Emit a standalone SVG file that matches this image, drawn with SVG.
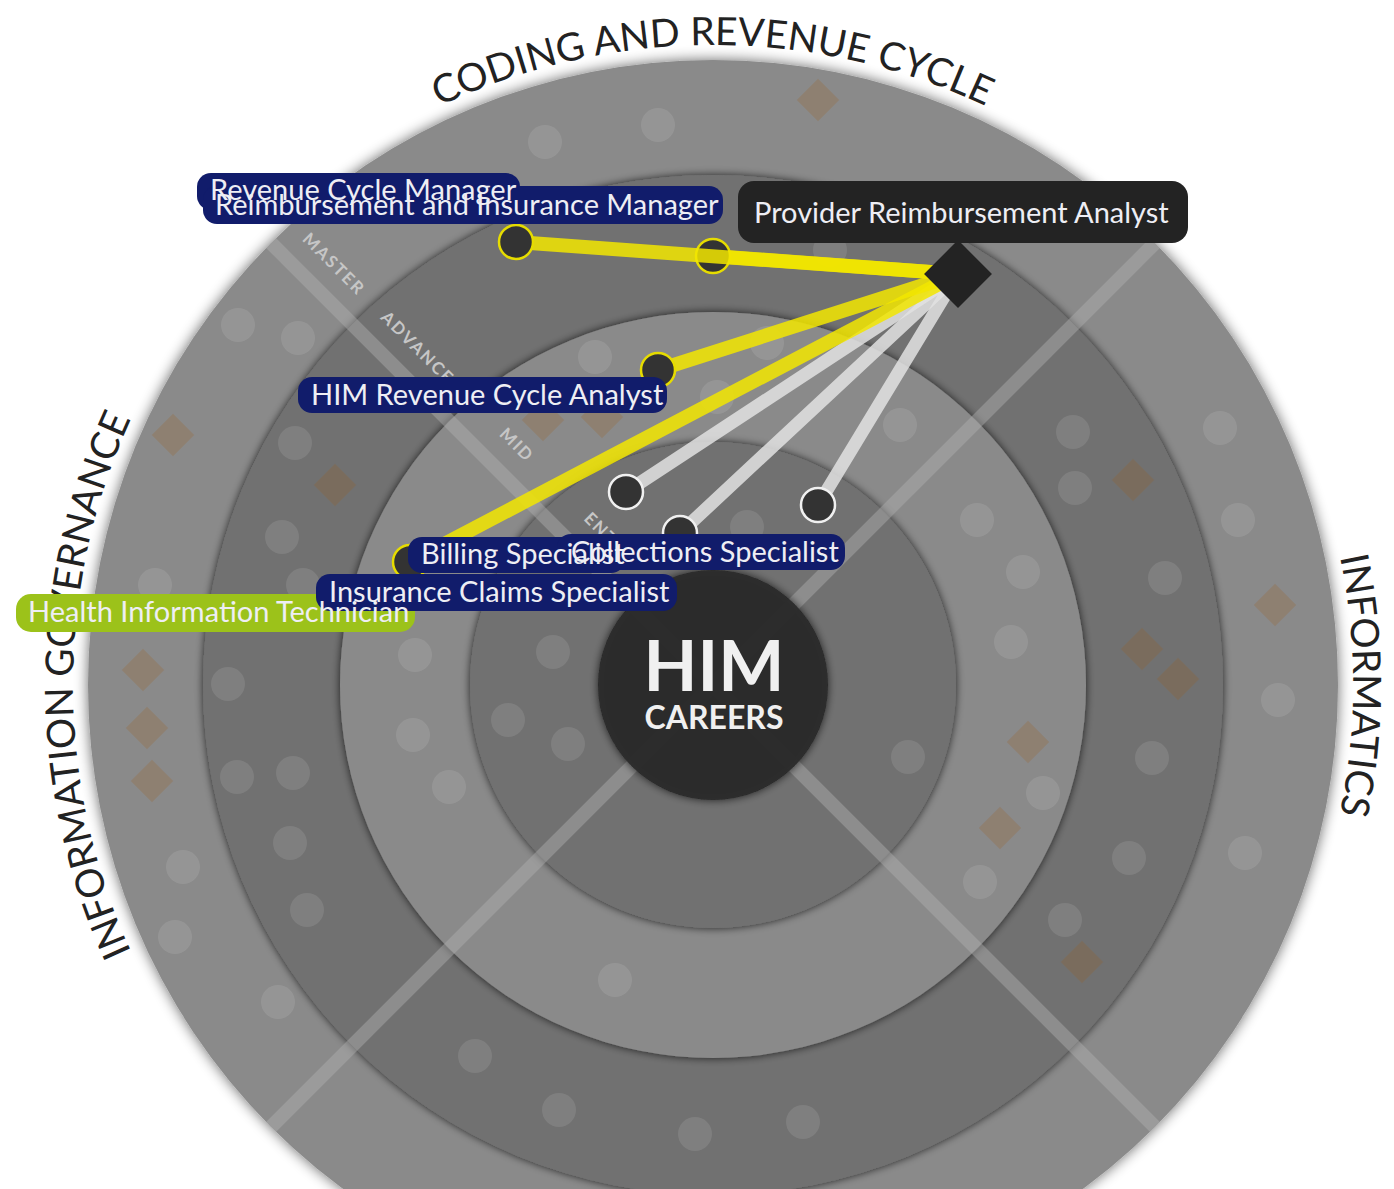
<svg xmlns="http://www.w3.org/2000/svg" width="1394" height="1189" viewBox="0 0 1394 1189">
<defs>
<style>
.light{fill:#8a8a8a}
.dark{fill:#717171}
.dot{fill:#ffffff;fill-opacity:0.1}
.dia{fill:#a05a10;fill-opacity:0.2}
.axis{stroke:#b0b0b0;stroke-opacity:0.45;stroke-width:14}
.lvl{font-family:Lato,"Open Sans",sans-serif;font-weight:700;font-size:17px;fill:#c6c6c6;letter-spacing:2px;text-anchor:middle}
.head{font-family:Lato,"Open Sans",sans-serif;font-size:39px;fill:#222222}
.y{stroke:#f2e600;stroke-opacity:0.85;stroke-width:14;stroke-linecap:round;fill:none}
.w{stroke:#e2e2e2;stroke-opacity:0.85;stroke-width:13;stroke-linecap:round;fill:none}
.ny{fill:#333333;stroke:#e6dc00;stroke-width:2.5}
.nw{fill:#333333;stroke:#f0f0f0;stroke-width:2.5}
.pill{fill:#111c6b}
.lab{font-family:Lato,"Open Sans",sans-serif;font-size:29px;fill:#eeeef4}
</style>
<filter id="sh" x="-10%" y="-10%" width="120%" height="120%">
<feGaussianBlur in="SourceAlpha" stdDeviation="4"/>
<feComponentTransfer><feFuncA type="linear" slope="0.75"/></feComponentTransfer>
<feMerge><feMergeNode/><feMergeNode in="SourceGraphic"/></feMerge>
</filter>
<filter id="sho" x="-10%" y="-10%" width="120%" height="120%">
<feGaussianBlur in="SourceAlpha" stdDeviation="7"/>
<feComponentTransfer><feFuncA type="linear" slope="0.6"/></feComponentTransfer>
<feMerge><feMergeNode/><feMergeNode in="SourceGraphic"/></feMerge>
</filter>
<path id="arc" d="M713,1325 A640,640 0 1 1 713,45 A640,640 0 1 1 713,1325"/>
</defs>
<rect width="1394" height="1189" fill="#ffffff"/>

<g id="rings">
<circle class="light" cx="713" cy="685" r="625" filter="url(#sho)"/>
<circle class="dark" cx="713" cy="685" r="510" filter="url(#sh)"/>
<circle class="light" cx="713" cy="685" r="373" filter="url(#sh)"/>
<circle class="dark" cx="713" cy="685" r="243" filter="url(#sh)"/>
<line class="axis" x1="271" y1="243" x2="1155" y2="1127"/>
<line class="axis" x1="1155" y1="243" x2="271" y2="1127"/>
</g>

<g id="headings">
<text class="head" text-anchor="middle"><textPath href="#arc" startOffset="2010">CODING AND REVENUE CYCLE</textPath></text>
<text class="head" text-anchor="middle"><textPath href="#arc" startOffset="1005">INFORMATION GOVERNANCE</textPath></text>
<text class="head" text-anchor="middle"><textPath href="#arc" startOffset="3016">INFORMATICS</textPath></text>
</g>

<g id="background-careers">
<circle class="dot" cx="545" cy="142" r="17"/>
<circle class="dot" cx="658" cy="125" r="17"/>
<circle class="dot" cx="238" cy="325" r="17"/>
<circle class="dot" cx="298" cy="338" r="17"/>
<circle class="dot" cx="295" cy="443" r="17"/>
<circle class="dot" cx="282" cy="537" r="17"/>
<circle class="dot" cx="155" cy="585" r="17"/>
<circle class="dot" cx="303" cy="585" r="17"/>
<circle class="dot" cx="228" cy="684" r="17"/>
<circle class="dot" cx="415" cy="655" r="17"/>
<circle class="dot" cx="553" cy="652" r="17"/>
<circle class="dot" cx="413" cy="735" r="17"/>
<circle class="dot" cx="508" cy="720" r="17"/>
<circle class="dot" cx="568" cy="744" r="17"/>
<circle class="dot" cx="237" cy="777" r="17"/>
<circle class="dot" cx="293" cy="773" r="17"/>
<circle class="dot" cx="449" cy="787" r="17"/>
<circle class="dot" cx="290" cy="843" r="17"/>
<circle class="dot" cx="183" cy="867" r="17"/>
<circle class="dot" cx="307" cy="910" r="17"/>
<circle class="dot" cx="175" cy="937" r="17"/>
<circle class="dot" cx="278" cy="1002" r="17"/>
<circle class="dot" cx="615" cy="980" r="17"/>
<circle class="dot" cx="475" cy="1056" r="17"/>
<circle class="dot" cx="559" cy="1110" r="17"/>
<circle class="dot" cx="695" cy="1134" r="17"/>
<circle class="dot" cx="803" cy="1122" r="17"/>
<circle class="dot" cx="595" cy="357" r="17"/>
<circle class="dot" cx="717" cy="397" r="17"/>
<circle class="dot" cx="767" cy="343" r="17"/>
<circle class="dot" cx="830" cy="250" r="17"/>
<circle class="dot" cx="747" cy="527" r="17"/>
<circle class="dot" cx="900" cy="425" r="17"/>
<circle class="dot" cx="1073" cy="432" r="17"/>
<circle class="dot" cx="1075" cy="488" r="17"/>
<circle class="dot" cx="1220" cy="428" r="17"/>
<circle class="dot" cx="977" cy="520" r="17"/>
<circle class="dot" cx="1023" cy="572" r="17"/>
<circle class="dot" cx="1238" cy="520" r="17"/>
<circle class="dot" cx="1165" cy="578" r="17"/>
<circle class="dot" cx="1011" cy="642" r="17"/>
<circle class="dot" cx="1278" cy="700" r="17"/>
<circle class="dot" cx="908" cy="757" r="17"/>
<circle class="dot" cx="1152" cy="758" r="17"/>
<circle class="dot" cx="1043" cy="793" r="17"/>
<circle class="dot" cx="1129" cy="858" r="17"/>
<circle class="dot" cx="1245" cy="853" r="17"/>
<circle class="dot" cx="980" cy="882" r="17"/>
<circle class="dot" cx="1065" cy="920" r="17"/>
<rect class="dia" x="-15" y="-15" width="30" height="30" transform="translate(818,100) rotate(45)"/>
<rect class="dia" x="-15" y="-15" width="30" height="30" transform="translate(173,435) rotate(45)"/>
<rect class="dia" x="-15" y="-15" width="30" height="30" transform="translate(335,485) rotate(45)"/>
<rect class="dia" x="-15" y="-15" width="30" height="30" transform="translate(143,670) rotate(45)"/>
<rect class="dia" x="-15" y="-15" width="30" height="30" transform="translate(147,728) rotate(45)"/>
<rect class="dia" x="-15" y="-15" width="30" height="30" transform="translate(152,781) rotate(45)"/>
<rect class="dia" x="-15" y="-15" width="30" height="30" transform="translate(543,420) rotate(45)"/>
<rect class="dia" x="-15" y="-15" width="30" height="30" transform="translate(602,417) rotate(45)"/>
<rect class="dia" x="-15" y="-15" width="30" height="30" transform="translate(1133,480) rotate(45)"/>
<rect class="dia" x="-15" y="-15" width="30" height="30" transform="translate(1275,605) rotate(45)"/>
<rect class="dia" x="-15" y="-15" width="30" height="30" transform="translate(1142,649) rotate(45)"/>
<rect class="dia" x="-15" y="-15" width="30" height="30" transform="translate(1178,679) rotate(45)"/>
<rect class="dia" x="-15" y="-15" width="30" height="30" transform="translate(1028,742) rotate(45)"/>
<rect class="dia" x="-15" y="-15" width="30" height="30" transform="translate(1000,828) rotate(45)"/>
<rect class="dia" x="-15" y="-15" width="30" height="30" transform="translate(1082,962) rotate(45)"/>
</g>

<g id="levels">
<text class="lvl" transform="translate(334,264) rotate(45)" dy="6">MASTER</text>
<text class="lvl" transform="translate(423,353) rotate(45)" dy="6">ADVANCED</text>
<text class="lvl" transform="translate(517,445) rotate(45)" dy="6">MID</text>
<text class="lvl" transform="translate(610,538) rotate(45)" dy="6">ENTRY</text>
</g>

<g id="center">
<circle cx="713" cy="685" r="115" fill="#2a2a2a" fill-opacity="0.96" filter="url(#sh)"/>
<text x="714" y="691" text-anchor="middle" font-family="Lato, 'Open Sans', sans-serif" font-weight="700" font-size="70" fill="#f0f0f0">HIM</text>
<text x="714" y="729" text-anchor="middle" font-family="Lato, 'Open Sans', sans-serif" font-weight="700" font-size="32" fill="#f0f0f0">CAREERS</text>
</g>

<g id="connectors">
<line class="w" x1="958" y1="274" x2="818" y2="505"/>
<line class="w" x1="958" y1="274" x2="680" y2="533"/>
<line class="w" x1="958" y1="274" x2="626" y2="492"/>
<line class="y" x1="958" y1="274" x2="410" y2="562"/>
<line class="y" x1="958" y1="274" x2="658" y2="370"/>
<line class="y" x1="958" y1="274" x2="713" y2="256"/>
</g>

<g id="node-collections"><circle class="nw" cx="818" cy="505" r="17"/></g>
<g id="node-insurance-claims"><circle class="nw" cx="680" cy="533" r="17"/></g>
<g id="node-hit"><circle class="nw" cx="626" cy="492" r="17"/></g>
<g id="node-billing"><circle class="ny" cx="410" cy="562" r="17"/></g>
<g id="node-him-rca"><circle class="ny" cx="658" cy="370" r="17"/></g>
<g id="node-reimb-mgr"><circle class="ny" cx="713" cy="256" r="17"/></g>
<g id="connector-rcm"><line class="y" x1="958" y1="274" x2="516" y2="242"/></g>
<g id="node-rcm"><circle class="ny" cx="516" cy="242" r="17"/></g>
<g id="node-provider"><rect x="-24" y="-24" width="48" height="48" fill="#232323" transform="translate(958,274) rotate(45)"/></g>

<g id="label-pills">
<rect class="pill" x="197" y="173" width="323" height="37" rx="14"/>
<rect class="pill" x="203" y="186" width="520" height="38" rx="14"/>
<rect x="738" y="181" width="450" height="62" rx="16" fill="#232323"/>
<rect class="pill" x="298" y="377" width="369" height="36" rx="14"/>
<rect x="16" y="594" width="399" height="38" rx="15" fill="#9cc21a"/>
<rect class="pill" x="408" y="537" width="217" height="36" rx="14"/>
<rect class="pill" x="557" y="534" width="288" height="36" rx="14"/>
<rect class="pill" x="316" y="574" width="361" height="37" rx="14"/>
</g>
<g id="label-texts">
<text class="lab" x="210" y="200">Revenue Cycle Manager</text>
<text class="lab" x="215" y="215">Reimbursement and Insurance Manager</text>
<text class="lab" x="754" y="223">Provider Reimbursement Analyst</text>
<text class="lab" x="311" y="405">HIM Revenue Cycle Analyst</text>
<text class="lab" x="421" y="564">Billing Specialist</text>
<text class="lab" x="571" y="562">Collections Specialist</text>
<text class="lab" x="329" y="602">Insurance Claims Specialist</text>
<text class="lab" x="28" y="622">Health Information Technician</text>
</g>
</svg>
